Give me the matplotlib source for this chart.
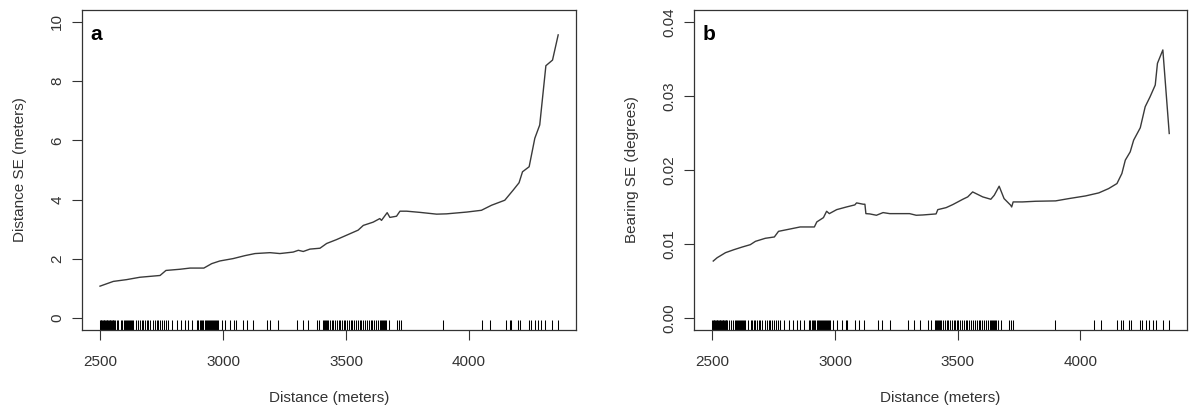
import matplotlib
matplotlib.use("Agg")
import matplotlib.pyplot as plt

plt.rcParams['font.family'] = ['Liberation Sans', 'DejaVu Sans']

# ---- data ----
dist_a = [2500, 2527, 2554, 2608, 2662, 2744, 2768, 2825, 2866, 2922, 2954, 2987,
          3041, 3089, 3130, 3191, 3231, 3285, 3306, 3326, 3353, 3394, 3421, 3461,
          3516, 3549, 3570, 3610, 3637, 3644, 3667, 3678, 3705, 3719, 3746, 3800,
          3868, 3908, 3990, 4050, 4091, 4145, 4179, 4203, 4217, 4244, 4267, 4287,
          4312, 4339, 4362]
se_dist = [1.08, 1.16, 1.24, 1.30, 1.38, 1.44, 1.61, 1.65, 1.69, 1.69, 1.84, 1.93,
           2.01, 2.11, 2.18, 2.21, 2.18, 2.23, 2.29, 2.25, 2.33, 2.36, 2.52, 2.65,
           2.85, 2.97, 3.13, 3.24, 3.36, 3.30, 3.56, 3.40, 3.44, 3.61, 3.61, 3.57,
           3.51, 3.52, 3.58, 3.64, 3.81, 3.98, 4.32, 4.57, 4.94, 5.11, 6.07, 6.52,
           8.52, 8.71, 9.56]

dist_b = [2504, 2520, 2554, 2588, 2622, 2655, 2676, 2716, 2753, 2770, 2818, 2858,
          2916, 2926, 2953, 2966, 2977, 3007, 3047, 3081, 3088, 3115, 3122, 3126,
          3142, 3169, 3196, 3223, 3304, 3331, 3358, 3412, 3419, 3453, 3480, 3521,
          3541, 3561, 3602, 3635, 3649, 3669, 3689, 3716, 3720, 3726, 3764, 3818,
          3899, 3953, 4021, 4075, 4115, 4149, 4169, 4183, 4203, 4217, 4244, 4264,
          4284, 4305, 4314, 4336, 4362]
se_bearing = [0.00771, 0.00816, 0.00884, 0.00924, 0.00960, 0.00992, 0.01037, 0.01078,
              0.01096, 0.01172, 0.01204, 0.01231, 0.01231, 0.01299, 0.01357, 0.01443,
              0.01411, 0.01465, 0.01501, 0.01529, 0.01556, 0.01538, 0.01538, 0.01411,
              0.01407, 0.01389, 0.01425, 0.01411, 0.01411, 0.01389, 0.01393, 0.01407,
              0.01465, 0.01492, 0.01533, 0.01605, 0.01637, 0.01704, 0.01637, 0.01605,
              0.01659, 0.01781, 0.01614, 0.01524, 0.01501, 0.01569, 0.01569, 0.01578,
              0.01583, 0.01614, 0.01650, 0.01691, 0.01749, 0.01817, 0.01952, 0.02133,
              0.02245, 0.02403, 0.02570, 0.02854, 0.02989, 0.03147, 0.03440, 0.03621,
              0.02493]

rug_dist = [2500, 2503, 2506, 2509, 2512, 2515, 2518, 2521, 2524, 2527, 2530, 2533,
            2536, 2539, 2542, 2545, 2548, 2551, 2554, 2557, 2561, 2568, 2575, 2584,
            2591, 2596, 2600, 2604, 2608, 2612, 2616, 2620, 2625, 2629, 2635, 2646,
            2656, 2663, 2669, 2676, 2683, 2690, 2696, 2703, 2714, 2723, 2730, 2737,
            2744, 2750, 2760, 2768, 2778, 2791, 2811, 2828, 2845, 2859, 2872, 2893,
            2900, 2905, 2910, 2915, 2920, 2925, 2930, 2935, 2940, 2944, 2948, 2952,
            2956, 2960, 2964, 2968, 2972, 2976, 2981, 2994, 3008, 3028, 3044, 3051,
            3082, 3096, 3120, 3177, 3191, 3224, 3299, 3323, 3346, 3380, 3391, 3407,
            3411, 3415, 3420, 3424, 3428, 3434, 3442, 3448, 3455, 3462, 3470, 3476,
            3483, 3490, 3497, 3503, 3510, 3518, 3525, 3532, 3540, 3547, 3555, 3562,
            3570, 3578, 3585, 3592, 3600, 3607, 3615, 3622, 3630, 3637, 3641, 3645,
            3650, 3654, 3658, 3664, 3675, 3708, 3716, 3724, 3895, 4054, 4084, 4148,
            4165, 4172, 4199, 4208, 4244, 4253, 4267, 4281, 4294, 4310, 4336, 4362]

x_ticks = [2500, 3000, 3500, 4000]
y_ticks_a = [0, 2, 4, 6, 8, 10]
y_ticks_b = [0.00, 0.01, 0.02, 0.03, 0.04]
y_labels_b = ["0.00", "0.01", "0.02", "0.03", "0.04"]

# ---- figure ----
W, H = 1189, 409
fig = plt.figure(figsize=(W / 100, H / 100), dpi=100)

text_col = '#333333'
line_col = '#3a3a3a'


def make_panel(left_px, right_px, xd, yd, ylim, yticks, ylabels, ylabel, letter):
    ax = fig.add_axes([left_px / W, 1 - 330 / H, (right_px - left_px) / W, 320 / H])
    ax.plot(xd, yd, color=line_col, lw=1.0)
    ax.vlines(rug_dist, 0, 0.03, transform=ax.get_xaxis_transform(),
              color='black', lw=0.75)
    ax.set_xlim(2425.6, 4434.4)
    span = ylim[1] - ylim[0]
    ax.set_ylim(ylim[0] - 0.04 * span, ylim[1] + 0.04 * span)
    ax.set_xticks(x_ticks)
    ax.set_xticklabels([str(t) for t in x_ticks])
    ax.set_yticks(yticks)
    ax.set_yticklabels(ylabels)
    ax.tick_params(direction='out', length=7, width=0.8, colors='#333333',
                   labelsize=11, labelcolor=text_col)
    ax.tick_params(axis='x', pad=11)
    ax.tick_params(axis='y', pad=5.5, labelrotation=90)
    for lab in ax.get_yticklabels():
        lab.set_va('center')
    for s in ax.spines.values():
        s.set_color('#333333')
        s.set_linewidth(0.9)
    w = right_px - left_px
    ax.set_xlabel('Distance (meters)', fontsize=11, color=text_col)
    ax.xaxis.set_label_coords(0.5, -68 / 320)
    ax.xaxis.label.set_va('center')
    ax.set_ylabel(ylabel, fontsize=11, color=text_col)
    ax.yaxis.set_label_coords(-62 / w, 0.5)
    ax.yaxis.label.set_va('center')
    ax.text(9 / w, 0.925, letter, transform=ax.transAxes, fontsize=15,
            fontweight='bold', ha='left', va='center', color='black')
    return ax


make_panel(81.7, 576, dist_a, se_dist, (0, 10), y_ticks_a,
           [str(t) for t in y_ticks_a], 'Distance SE (meters)', 'a')
make_panel(694, 1187, dist_b, se_bearing, (0, 0.04), y_ticks_b,
           y_labels_b, 'Bearing SE (degrees)', 'b')

fig.savefig('out.png', dpi=100)
